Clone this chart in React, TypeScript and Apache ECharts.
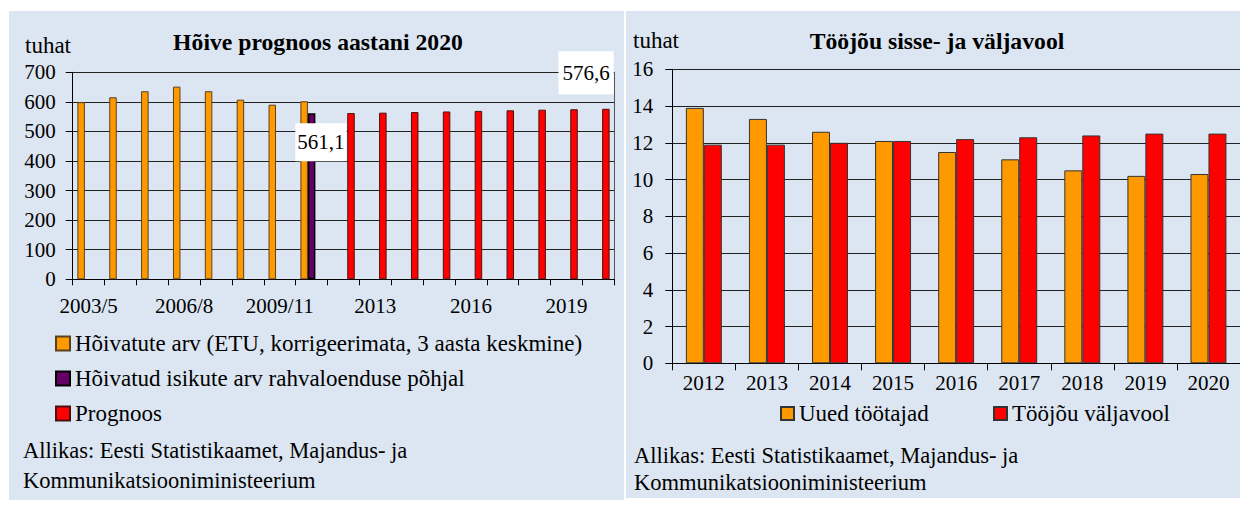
import React, { useEffect, useRef } from "react";
import * as echarts from "echarts";

const FONT = "Liberation Serif";

// Left chart: Hõive prognoos aastani 2020
const hoiveCategories = [
  "2003/5", "2004/6", "2005/7", "2006/8", "2007/9", "2008/10", "2009/11", "2010/12",
  "2012", "2013", "2014", "2015", "2016", "2017", "2018", "2019", "2020",
];
const hoivatuteArv = [599, 615.5, 636, 651.5, 636, 607.5, 590.5, 602, null, null, null, null, null, null, null, null, null];
const rahvaloendus = [null, null, null, null, null, null, null, 561.1, null, null, null, null, null, null, null, null, null];
const prognoos = [null, null, null, null, null, null, null, null, 562, 563.5, 565.5, 567.5, 569.5, 571.5, 573.5, 575, 576.6];

const leftSeriesNames = [
  "Hõivatute arv (ETU, korrigeerimata, 3 aasta keskmine)",
  "Hõivatud isikute arv rahvaloenduse põhjal",
  "Prognoos",
];

// Right chart: Tööjõu sisse- ja väljavool
const vooluYears = ["2012", "2013", "2014", "2015", "2016", "2017", "2018", "2019", "2020"];
const uuedTootajad = [13.9, 13.3, 12.6, 12.1, 11.5, 11.1, 10.5, 10.2, 10.3];
const toojouValjavool = [11.9, 11.9, 12.0, 12.1, 12.2, 12.3, 12.4, 12.5, 12.5];
const rightSeriesNames = ["Uued töötajad", "Tööjõu väljavool"];

const sourceLines = ["Allikas: Eesti Statistikaamet, Majandus- ja", "Kommunikatsiooniministeerium"];

const fmt = (p: any) => String(p.value).replace(".", ",");

const labelBox = {
  show: true,
  align: "center",
  verticalAlign: "middle",
  backgroundColor: "#ffffff",
  fontFamily: FONT,
  fontSize: 21,
  color: "#000",
  formatter: fmt,
};

function buildOption() {
  const axisLabelStyle = { fontFamily: FONT, fontSize: 21, color: "#000" };
  const legendText = { fontFamily: FONT, fontSize: 23, color: "#000" };

  const txt = (text: string, x: number, y: number, size: number, bold = false, align = "left") => ({
    type: "text",
    x,
    y,
    z: 10,
    style: {
      text,
      fontFamily: FONT,
      fontSize: size,
      fontWeight: bold ? "bold" : "normal",
      fill: "#000",
      textAlign: align,
      textVerticalAlign: "middle",
    },
  });

  const legendBase = { padding: 0, icon: "rect", textStyle: legendText, selectedMode: false };

  return {
    animation: false,
    backgroundColor: "#ffffff",
    textStyle: { fontFamily: FONT },
    graphic: [
      { type: "rect", z: -100, shape: { x: 9, y: 11, width: 615, height: 489 }, style: { fill: "#dce6f2" } },
      { type: "rect", z: -100, shape: { x: 626, y: 11, width: 614, height: 487 }, style: { fill: "#dce6f2" } },
      txt("Hõive prognoos aastani 2020", 318, 42, 23.7, true, "center"),
      txt("tuhat", 25, 45, 23),
      txt(sourceLines[0], 23, 450, 22.5),
      txt(sourceLines[1], 23, 480, 22.5),
      txt("Tööjõu sisse- ja väljavool", 937, 41, 23.7, true, "center"),
      txt("tuhat", 633, 40, 23),
      txt(sourceLines[0], 634, 455, 22.5),
      txt(sourceLines[1], 634, 482, 22.5),
    ],
    legend: [
      { ...legendBase, data: [leftSeriesNames[0]], left: 55, top: 332, itemWidth: 14, itemHeight: 14 },
      { ...legendBase, data: [leftSeriesNames[1]], left: 55, top: 367, itemWidth: 14, itemHeight: 14 },
      { ...legendBase, data: [leftSeriesNames[2]], left: 55, top: 402, itemWidth: 14, itemHeight: 14 },
      { ...legendBase, data: [rightSeriesNames[0]], left: 780, top: 402, itemWidth: 13, itemHeight: 13 },
      { ...legendBase, data: [rightSeriesNames[1]], left: 993, top: 402, itemWidth: 13, itemHeight: 13 },
    ],
    grid: [
      { left: 72.7, top: 72.3, width: 541.6, height: 207, containLabel: false },
      { left: 672.3, top: 69.3, width: 574, height: 294, containLabel: false },
    ],
    xAxis: [
      {
        type: "category",
        gridIndex: 0,
        data: hoiveCategories,
        axisLine: { lineStyle: { color: "#000", width: 1 } },
        axisTick: { show: true, interval: 0, length: 6, lineStyle: { color: "#000" } },
        axisLabel: { ...axisLabelStyle, interval: 2, margin: 16 },
        splitLine: { show: false },
      },
      {
        type: "category",
        gridIndex: 1,
        data: vooluYears,
        axisLine: { lineStyle: { color: "#000", width: 1 } },
        axisTick: { show: true, interval: 0, length: 7, lineStyle: { color: "#000" } },
        axisLabel: { ...axisLabelStyle, interval: 0, margin: 9 },
        splitLine: { show: false },
      },
    ],
    yAxis: [
      {
        type: "value",
        gridIndex: 0,
        min: 0,
        max: 700,
        interval: 100,
        axisLine: { show: true, lineStyle: { color: "#000", width: 1 } },
        axisTick: { show: true, length: 7, lineStyle: { color: "#000" } },
        axisLabel: { ...axisLabelStyle, margin: 17 },
        splitLine: { show: true, lineStyle: { color: "#222", width: 1 } },
      },
      {
        type: "value",
        gridIndex: 0,
        position: "right",
        min: 0,
        max: 700,
        interval: 100,
        axisLine: { show: true, lineStyle: { color: "#555", width: 1 } },
        axisTick: { show: false },
        axisLabel: { show: false },
        splitLine: { show: false },
      },
      {
        type: "value",
        gridIndex: 1,
        min: 0,
        max: 16,
        interval: 2,
        axisLine: { show: true, lineStyle: { color: "#000", width: 1 } },
        axisTick: { show: true, length: 7, lineStyle: { color: "#000" } },
        axisLabel: { ...axisLabelStyle, margin: 19 },
        splitLine: { show: true, lineStyle: { color: "#222", width: 1 } },
      },
    ],
    series: [
      {
        name: leftSeriesNames[0],
        type: "bar",
        xAxisIndex: 0,
        yAxisIndex: 0,
        barWidth: 7.5,
        barGap: "0%",
        data: hoivatuteArv,
        itemStyle: { color: "#ff9900", borderColor: "#5a4020", borderWidth: 1 },
      },
      {
        name: leftSeriesNames[1],
        type: "bar",
        xAxisIndex: 0,
        yAxisIndex: 0,
        barWidth: 7.5,
        barGap: "0%",
        data: rahvaloendus.map((v) =>
          v == null ? null : { value: v, label: { ...labelBox, position: [13, 29], padding: [9, 2, 8, 2] } }
        ),
        itemStyle: { color: "#660066", borderColor: "#000", borderWidth: 1.5 },
      },
      {
        name: leftSeriesNames[2],
        type: "bar",
        xAxisIndex: 0,
        yAxisIndex: 0,
        barWidth: 7.5,
        barGap: "0%",
        data: prognoos.map((v, i) =>
          i === prognoos.length - 1 && v != null
            ? { value: v, label: { ...labelBox, position: [-16, -36], padding: [11, 4, 11, 4] } }
            : v
        ),
        itemStyle: { color: "#ff0000", borderColor: "#4a1010", borderWidth: 1 },
      },
      {
        name: rightSeriesNames[0],
        type: "bar",
        xAxisIndex: 1,
        yAxisIndex: 2,
        barCategoryGap: "43%",
        barGap: "0%",
        data: uuedTootajad,
        itemStyle: { color: "#ff9900", borderColor: "#333", borderWidth: 1 },
      },
      {
        name: rightSeriesNames[1],
        type: "bar",
        xAxisIndex: 1,
        yAxisIndex: 2,
        barCategoryGap: "43%",
        barGap: "0%",
        data: toojouValjavool,
        itemStyle: { color: "#ff0000", borderColor: "#333", borderWidth: 1 },
      },
    ],
  };
}

export default function App() {
  const ref = useRef<HTMLDivElement>(null);
  useEffect(() => {
    if (!ref.current) return;
    const chart = echarts.init(ref.current, undefined, { renderer: "svg" });
    chart.setOption(buildOption() as any);
    return () => chart.dispose();
  }, []);
  return (
    <div
      ref={ref}
      style={{ position: "fixed", left: 0, top: 0, width: 1240, height: 509 }}
    />
  );
}
